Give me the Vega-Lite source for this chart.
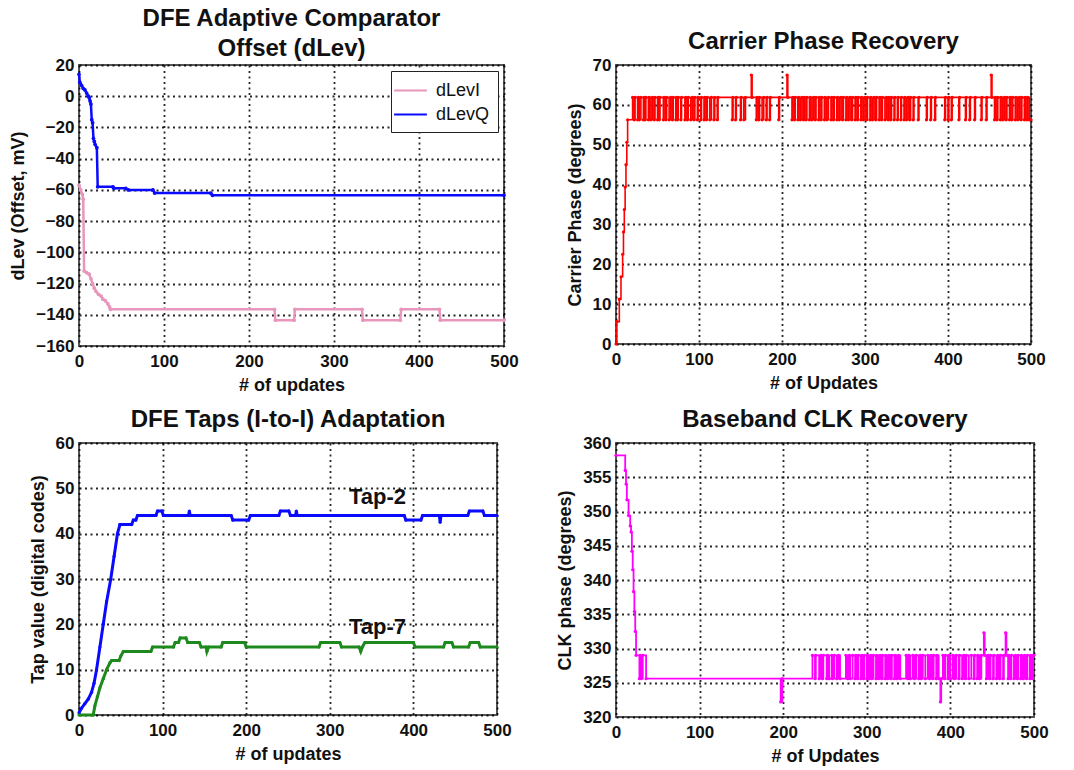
{
  "$schema": "https://vega.github.io/schema/vega-lite/v6.json",
  "background": "white",
  "padding": {"left": 8, "top": 6, "right": 4, "bottom": 0},
  "config": {
    "font": "Liberation Sans",
    "view": {"stroke": "#555", "strokeWidth": 2},
    "axis": {"grid": true, "gridColor": "#000", "gridDash": [2, 3.5], "gridWidth": 1.8, "gridOpacity": 0.85, "domain": false, "ticks": false, "labelFlush": false,
      "labelFont": "Liberation Sans", "labelFontSize": 17, "labelFontWeight": "bold", "labelColor": "#111",
      "titleFont": "Liberation Sans", "titleFontSize": 18, "titleFontWeight": "bold", "titleColor": "#111", "labelPadding": 7, "titlePadding": 7},
    "axisY": {"labelPadding": 5, "titlePadding": 8},
    "title": {"font": "Liberation Sans", "fontSize": 24, "fontWeight": "bold", "color": "#111", "offset": 2, "anchor": "middle", "lineHeight": 30}
  },
  "resolve": {"scale": {"color": "independent"}, "legend": {"color": "independent"}},
  "columns": 2,
  "spacing": {"row": 12, "column": 35},
  "datasets": {
    "dlev": [
      {"x": 0, "y": 14, "s": "dLevQ"}, {"x": 1, "y": 9, "s": "dLevQ"}, {"x": 3, "y": 7, "s": "dLevQ"}, {"x": 5, "y": 5, "s": "dLevQ"}, {"x": 7, "y": 4, "s": "dLevQ"}, {"x": 9, "y": 2, "s": "dLevQ"}, {"x": 11, "y": 0, "s": "dLevQ"}, {"x": 12, "y": -1, "s": "dLevQ"}, {"x": 13, "y": -3, "s": "dLevQ"}, {"x": 14, "y": -5, "s": "dLevQ"}, {"x": 15, "y": -15, "s": "dLevQ"}, {"x": 16, "y": -17, "s": "dLevQ"}, {"x": 17, "y": -27, "s": "dLevQ"}, {"x": 18, "y": -29, "s": "dLevQ"}, {"x": 19, "y": -31, "s": "dLevQ"}, {"x": 21, "y": -33, "s": "dLevQ"}, {"x": 22, "y": -58, "s": "dLevQ"}, {"x": 40, "y": -58, "s": "dLevQ"}, {"x": 41, "y": -59, "s": "dLevQ"}, {"x": 55, "y": -59, "s": "dLevQ"}, {"x": 58, "y": -60, "s": "dLevQ"}, {"x": 87, "y": -60, "s": "dLevQ"}, {"x": 89, "y": -62, "s": "dLevQ"}, {"x": 155, "y": -62, "s": "dLevQ"}, {"x": 157, "y": -63.5, "s": "dLevQ"}, {"x": 500, "y": -63.5, "s": "dLevQ"},
      {"x": 0, "y": -57, "s": "dLevI"}, {"x": 2, "y": -60, "s": "dLevI"}, {"x": 4, "y": -63, "s": "dLevI"}, {"x": 5, "y": -66, "s": "dLevI"}, {"x": 6, "y": -112, "s": "dLevI"}, {"x": 9, "y": -113, "s": "dLevI"}, {"x": 12, "y": -114, "s": "dLevI"}, {"x": 14, "y": -117, "s": "dLevI"}, {"x": 16, "y": -120, "s": "dLevI"}, {"x": 18, "y": -123, "s": "dLevI"}, {"x": 20, "y": -125, "s": "dLevI"}, {"x": 23, "y": -127, "s": "dLevI"}, {"x": 26, "y": -128, "s": "dLevI"}, {"x": 28, "y": -130, "s": "dLevI"}, {"x": 31, "y": -131, "s": "dLevI"}, {"x": 34, "y": -133, "s": "dLevI"}, {"x": 36, "y": -135, "s": "dLevI"}, {"x": 37, "y": -136.5, "s": "dLevI"}, {"x": 230, "y": -136.5, "s": "dLevI"}, {"x": 231, "y": -143.5, "s": "dLevI"}, {"x": 253, "y": -143.5, "s": "dLevI"}, {"x": 254, "y": -136.5, "s": "dLevI"}, {"x": 333, "y": -136.5, "s": "dLevI"}, {"x": 334, "y": -143.5, "s": "dLevI"}, {"x": 378, "y": -143.5, "s": "dLevI"}, {"x": 379, "y": -136.5, "s": "dLevI"}, {"x": 424, "y": -136.5, "s": "dLevI"}, {"x": 425, "y": -143.5, "s": "dLevI"}, {"x": 500, "y": -143.5, "s": "dLevI"}
    ],
    "carrier": [
      {"x": 0, "y": 0}, {"x": 1, "y": 5.625}, {"x": 4, "y": 11.25}, {"x": 6, "y": 16.875}, {"x": 8, "y": 22.5}, {"x": 9, "y": 28.125}, {"x": 10, "y": 33.75}, {"x": 11, "y": 39.375}, {"x": 12, "y": 45}, {"x": 13, "y": 50.625}, {"x": 14, "y": 56.25},
      {"x": 20, "y": 61.875}, {"x": 22, "y": 56.25}, {"x": 23, "y": 61.875}, {"x": 26, "y": 56.25}, {"x": 27, "y": 61.875}, {"x": 28, "y": 56.25}, {"x": 30, "y": 61.875}, {"x": 33, "y": 56.25}, {"x": 34, "y": 61.875}, {"x": 35, "y": 56.25}, {"x": 36, "y": 61.875}, {"x": 39, "y": 56.25}, {"x": 40, "y": 61.875}, {"x": 42, "y": 56.25}, {"x": 44, "y": 61.875}, {"x": 46, "y": 56.25}, {"x": 47, "y": 61.875}, {"x": 50, "y": 56.25}, {"x": 51, "y": 61.875}, {"x": 52, "y": 56.25}, {"x": 53, "y": 61.875}, {"x": 57, "y": 56.25}, {"x": 58, "y": 61.875}, {"x": 60, "y": 56.25}, {"x": 61, "y": 61.875}, {"x": 64, "y": 56.25}, {"x": 66, "y": 61.875}, {"x": 68, "y": 56.25}, {"x": 69, "y": 61.875}, {"x": 72, "y": 56.25}, {"x": 73, "y": 61.875}, {"x": 74, "y": 56.25}, {"x": 75, "y": 61.875}, {"x": 78, "y": 56.25}, {"x": 79, "y": 61.875}, {"x": 83, "y": 56.25}, {"x": 84, "y": 61.875}, {"x": 86, "y": 56.25}, {"x": 87, "y": 61.875}, {"x": 90, "y": 56.25}, {"x": 92, "y": 61.875}, {"x": 94, "y": 56.25}, {"x": 95, "y": 61.875}, {"x": 98, "y": 56.25}, {"x": 99, "y": 61.875}, {"x": 102, "y": 56.25}, {"x": 103, "y": 61.875}, {"x": 106, "y": 56.25}, {"x": 107, "y": 61.875}, {"x": 109, "y": 56.25}, {"x": 110, "y": 61.875}, {"x": 113, "y": 56.25}, {"x": 115, "y": 61.875}, {"x": 118, "y": 56.25}, {"x": 119, "y": 61.875}, {"x": 122, "y": 56.25}, {"x": 123, "y": 61.875},
      {"x": 140, "y": 56.25}, {"x": 141, "y": 61.875}, {"x": 144, "y": 56.25}, {"x": 145, "y": 61.875}, {"x": 150, "y": 56.25}, {"x": 151, "y": 61.875}, {"x": 154, "y": 56.25}, {"x": 156, "y": 61.875}, {"x": 163, "y": 67.5}, {"x": 164, "y": 61.875}, {"x": 169, "y": 56.25}, {"x": 170, "y": 61.875}, {"x": 172, "y": 56.25}, {"x": 173, "y": 61.875}, {"x": 176, "y": 56.25}, {"x": 178, "y": 61.875}, {"x": 181, "y": 56.25}, {"x": 182, "y": 61.875}, {"x": 185, "y": 56.25}, {"x": 186, "y": 61.875}, {"x": 196, "y": 56.25}, {"x": 197, "y": 61.875}, {"x": 206, "y": 67.5}, {"x": 207, "y": 61.875},
      {"x": 212, "y": 56.25}, {"x": 213, "y": 61.875}, {"x": 215, "y": 56.25}, {"x": 216, "y": 61.875}, {"x": 219, "y": 56.25}, {"x": 220, "y": 61.875}, {"x": 222, "y": 56.25}, {"x": 224, "y": 61.875}, {"x": 226, "y": 56.25}, {"x": 227, "y": 61.875}, {"x": 229, "y": 56.25}, {"x": 230, "y": 61.875}, {"x": 233, "y": 56.25}, {"x": 234, "y": 61.875}, {"x": 236, "y": 56.25}, {"x": 238, "y": 61.875}, {"x": 240, "y": 56.25}, {"x": 241, "y": 61.875}, {"x": 244, "y": 56.25}, {"x": 245, "y": 61.875}, {"x": 247, "y": 56.25}, {"x": 248, "y": 61.875}, {"x": 251, "y": 56.25}, {"x": 252, "y": 61.875}, {"x": 254, "y": 56.25}, {"x": 256, "y": 61.875}, {"x": 259, "y": 56.25}, {"x": 260, "y": 61.875}, {"x": 262, "y": 56.25}, {"x": 263, "y": 61.875}, {"x": 266, "y": 56.25}, {"x": 267, "y": 61.875}, {"x": 269, "y": 56.25}, {"x": 271, "y": 61.875}, {"x": 273, "y": 56.25}, {"x": 274, "y": 61.875}, {"x": 277, "y": 56.25}, {"x": 278, "y": 61.875}, {"x": 280, "y": 56.25}, {"x": 282, "y": 61.875}, {"x": 284, "y": 56.25}, {"x": 285, "y": 61.875}, {"x": 288, "y": 56.25}, {"x": 289, "y": 61.875}, {"x": 291, "y": 56.25}, {"x": 292, "y": 61.875}, {"x": 295, "y": 56.25}, {"x": 296, "y": 61.875}, {"x": 298, "y": 56.25}, {"x": 300, "y": 61.875}, {"x": 302, "y": 56.25}, {"x": 303, "y": 61.875}, {"x": 306, "y": 56.25}, {"x": 307, "y": 61.875}, {"x": 309, "y": 56.25}, {"x": 311, "y": 61.875}, {"x": 313, "y": 56.25}, {"x": 314, "y": 61.875}, {"x": 317, "y": 56.25}, {"x": 318, "y": 61.875}, {"x": 320, "y": 56.25}, {"x": 321, "y": 61.875}, {"x": 324, "y": 56.25}, {"x": 326, "y": 61.875}, {"x": 328, "y": 56.25}, {"x": 329, "y": 61.875}, {"x": 331, "y": 56.25}, {"x": 332, "y": 61.875}, {"x": 335, "y": 56.25}, {"x": 336, "y": 61.875}, {"x": 339, "y": 56.25}, {"x": 340, "y": 61.875}, {"x": 343, "y": 56.25}, {"x": 344, "y": 61.875}, {"x": 347, "y": 56.25}, {"x": 348, "y": 61.875}, {"x": 350, "y": 56.25}, {"x": 352, "y": 61.875}, {"x": 354, "y": 56.25}, {"x": 355, "y": 61.875},
      {"x": 358, "y": 56.25}, {"x": 359, "y": 61.875}, {"x": 364, "y": 56.25}, {"x": 365, "y": 61.875}, {"x": 374, "y": 56.25}, {"x": 375, "y": 61.875}, {"x": 379, "y": 56.25}, {"x": 380, "y": 61.875}, {"x": 384, "y": 56.25}, {"x": 385, "y": 61.875}, {"x": 396, "y": 56.25}, {"x": 397, "y": 61.875}, {"x": 400, "y": 56.25}, {"x": 401, "y": 61.875}, {"x": 404, "y": 56.25}, {"x": 405, "y": 61.875}, {"x": 413, "y": 56.25}, {"x": 414, "y": 61.875}, {"x": 421, "y": 56.25}, {"x": 422, "y": 61.875}, {"x": 426, "y": 56.25}, {"x": 427, "y": 61.875}, {"x": 432, "y": 56.25}, {"x": 433, "y": 61.875}, {"x": 440, "y": 56.25}, {"x": 441, "y": 61.875}, {"x": 446, "y": 56.25}, {"x": 447, "y": 61.875}, {"x": 452, "y": 67.5}, {"x": 453, "y": 61.875},
      {"x": 456, "y": 56.25}, {"x": 457, "y": 61.875}, {"x": 459, "y": 56.25}, {"x": 460, "y": 61.875}, {"x": 463, "y": 56.25}, {"x": 464, "y": 61.875}, {"x": 466, "y": 56.25}, {"x": 468, "y": 61.875}, {"x": 470, "y": 56.25}, {"x": 471, "y": 61.875}, {"x": 474, "y": 56.25}, {"x": 475, "y": 61.875}, {"x": 477, "y": 56.25}, {"x": 478, "y": 61.875}, {"x": 481, "y": 56.25}, {"x": 482, "y": 61.875}, {"x": 484, "y": 56.25}, {"x": 486, "y": 61.875}, {"x": 488, "y": 56.25}, {"x": 489, "y": 61.875}, {"x": 492, "y": 56.25}, {"x": 493, "y": 61.875}, {"x": 495, "y": 56.25}, {"x": 496, "y": 61.875}, {"x": 498, "y": 56.25}, {"x": 500, "y": 56.25}
    ],
    "taps": [
      {"x": 0, "y": 0.5, "s": "Tap-2"}, {"x": 3, "y": 1.5, "s": "Tap-2"}, {"x": 7, "y": 2.5, "s": "Tap-2"}, {"x": 11, "y": 3.5, "s": "Tap-2"}, {"x": 15, "y": 5, "s": "Tap-2"}, {"x": 18, "y": 7, "s": "Tap-2"}, {"x": 21, "y": 10, "s": "Tap-2"}, {"x": 25, "y": 15, "s": "Tap-2"}, {"x": 29, "y": 20, "s": "Tap-2"}, {"x": 33, "y": 25, "s": "Tap-2"}, {"x": 38, "y": 30, "s": "Tap-2"}, {"x": 42, "y": 35, "s": "Tap-2"}, {"x": 46, "y": 40, "s": "Tap-2"}, {"x": 49, "y": 42, "s": "Tap-2"}, {"x": 63, "y": 42, "s": "Tap-2"}, {"x": 65, "y": 43, "s": "Tap-2"}, {"x": 68, "y": 43, "s": "Tap-2"}, {"x": 70, "y": 44, "s": "Tap-2"}, {"x": 92, "y": 44, "s": "Tap-2"}, {"x": 94, "y": 45, "s": "Tap-2"}, {"x": 99, "y": 45, "s": "Tap-2"}, {"x": 101, "y": 44, "s": "Tap-2"}, {"x": 131, "y": 44, "s": "Tap-2"}, {"x": 132, "y": 45, "s": "Tap-2"}, {"x": 133, "y": 44, "s": "Tap-2"}, {"x": 182, "y": 44, "s": "Tap-2"}, {"x": 184, "y": 43, "s": "Tap-2"}, {"x": 203, "y": 43, "s": "Tap-2"}, {"x": 205, "y": 44, "s": "Tap-2"}, {"x": 239, "y": 44, "s": "Tap-2"}, {"x": 241, "y": 45, "s": "Tap-2"}, {"x": 251, "y": 45, "s": "Tap-2"}, {"x": 253, "y": 44, "s": "Tap-2"}, {"x": 259, "y": 44, "s": "Tap-2"}, {"x": 260, "y": 45, "s": "Tap-2"}, {"x": 261, "y": 44, "s": "Tap-2"}, {"x": 389, "y": 44, "s": "Tap-2"}, {"x": 391, "y": 43, "s": "Tap-2"}, {"x": 409, "y": 43, "s": "Tap-2"}, {"x": 411, "y": 44, "s": "Tap-2"}, {"x": 431, "y": 44, "s": "Tap-2"}, {"x": 432, "y": 42.5, "s": "Tap-2"}, {"x": 433, "y": 44, "s": "Tap-2"}, {"x": 465, "y": 44, "s": "Tap-2"}, {"x": 467, "y": 45, "s": "Tap-2"}, {"x": 483, "y": 45, "s": "Tap-2"}, {"x": 485, "y": 44, "s": "Tap-2"}, {"x": 500, "y": 44, "s": "Tap-2"},
      {"x": 0, "y": 0, "s": "Tap-7"}, {"x": 17, "y": 0, "s": "Tap-7"}, {"x": 19, "y": 2, "s": "Tap-7"}, {"x": 22, "y": 4, "s": "Tap-7"}, {"x": 25, "y": 6, "s": "Tap-7"}, {"x": 29, "y": 8, "s": "Tap-7"}, {"x": 33, "y": 10, "s": "Tap-7"}, {"x": 37, "y": 11.5, "s": "Tap-7"}, {"x": 39, "y": 12, "s": "Tap-7"}, {"x": 48, "y": 12, "s": "Tap-7"}, {"x": 50, "y": 13, "s": "Tap-7"}, {"x": 53, "y": 14, "s": "Tap-7"}, {"x": 86, "y": 14, "s": "Tap-7"}, {"x": 88, "y": 15, "s": "Tap-7"}, {"x": 113, "y": 15, "s": "Tap-7"}, {"x": 115, "y": 16, "s": "Tap-7"}, {"x": 119, "y": 16, "s": "Tap-7"}, {"x": 121, "y": 17, "s": "Tap-7"}, {"x": 128, "y": 17, "s": "Tap-7"}, {"x": 130, "y": 16, "s": "Tap-7"}, {"x": 144, "y": 16, "s": "Tap-7"}, {"x": 146, "y": 15, "s": "Tap-7"}, {"x": 152, "y": 15, "s": "Tap-7"}, {"x": 153, "y": 14, "s": "Tap-7"}, {"x": 155, "y": 15, "s": "Tap-7"}, {"x": 170, "y": 15, "s": "Tap-7"}, {"x": 172, "y": 16, "s": "Tap-7"}, {"x": 198, "y": 16, "s": "Tap-7"}, {"x": 200, "y": 15, "s": "Tap-7"}, {"x": 287, "y": 15, "s": "Tap-7"}, {"x": 289, "y": 16, "s": "Tap-7"}, {"x": 312, "y": 16, "s": "Tap-7"}, {"x": 314, "y": 15, "s": "Tap-7"}, {"x": 335, "y": 15, "s": "Tap-7"}, {"x": 337, "y": 14, "s": "Tap-7"}, {"x": 339, "y": 15, "s": "Tap-7"}, {"x": 342, "y": 16, "s": "Tap-7"}, {"x": 400, "y": 16, "s": "Tap-7"}, {"x": 402, "y": 15, "s": "Tap-7"}, {"x": 436, "y": 15, "s": "Tap-7"}, {"x": 438, "y": 16, "s": "Tap-7"}, {"x": 446, "y": 16, "s": "Tap-7"}, {"x": 448, "y": 15, "s": "Tap-7"}, {"x": 466, "y": 15, "s": "Tap-7"}, {"x": 468, "y": 16, "s": "Tap-7"}, {"x": 478, "y": 16, "s": "Tap-7"}, {"x": 480, "y": 15, "s": "Tap-7"}, {"x": 500, "y": 15, "s": "Tap-7"}
    ],
    "taplabels": [
      {"x": 357, "y": 48, "label": "Tap-2"},
      {"x": 357, "y": 19.5, "label": "Tap-7"}
    ],
    "clk": [
      {"x": 0, "y": 358.2}, {"x": 11, "y": 356}, {"x": 12, "y": 354}, {"x": 13, "y": 351.7}, {"x": 15, "y": 349.4}, {"x": 17, "y": 347.9}, {"x": 18, "y": 347}, {"x": 19, "y": 344.2}, {"x": 20, "y": 341.5}, {"x": 21, "y": 338.3}, {"x": 22, "y": 335.4}, {"x": 23, "y": 332.5}, {"x": 24, "y": 329}, {"x": 28, "y": 325.6}, {"x": 29, "y": 329}, {"x": 30, "y": 325.6}, {"x": 32, "y": 329}, {"x": 36, "y": 325.6}, {"x": 197, "y": 322.2}, {"x": 199, "y": 325.6},
      {"x": 235, "y": 329}, {"x": 238, "y": 325.6}, {"x": 239, "y": 329}, {"x": 243, "y": 325.6}, {"x": 245, "y": 329}, {"x": 247, "y": 325.6}, {"x": 248, "y": 329}, {"x": 252, "y": 325.6}, {"x": 253, "y": 329}, {"x": 255, "y": 325.6}, {"x": 258, "y": 329}, {"x": 259, "y": 325.6}, {"x": 261, "y": 329}, {"x": 264, "y": 325.6}, {"x": 266, "y": 329}, {"x": 268, "y": 325.6}, {"x": 275, "y": 329}, {"x": 277, "y": 325.6}, {"x": 279, "y": 329}, {"x": 280, "y": 325.6}, {"x": 283, "y": 329}, {"x": 286, "y": 325.6}, {"x": 287, "y": 329}, {"x": 289, "y": 325.6}, {"x": 290, "y": 329}, {"x": 293, "y": 325.6}, {"x": 294, "y": 329}, {"x": 296, "y": 325.6}, {"x": 297, "y": 329}, {"x": 300, "y": 325.6}, {"x": 301, "y": 329}, {"x": 303, "y": 325.6}, {"x": 305, "y": 329}, {"x": 306, "y": 325.6}, {"x": 308, "y": 329}, {"x": 311, "y": 325.6}, {"x": 312, "y": 329}, {"x": 314, "y": 325.6}, {"x": 316, "y": 329}, {"x": 318, "y": 325.6}, {"x": 319, "y": 329}, {"x": 322, "y": 325.6}, {"x": 323, "y": 329}, {"x": 325, "y": 325.6}, {"x": 327, "y": 329}, {"x": 329, "y": 325.6}, {"x": 330, "y": 329}, {"x": 333, "y": 325.6}, {"x": 334, "y": 329}, {"x": 336, "y": 325.6}, {"x": 338, "y": 329}, {"x": 340, "y": 325.6}, {"x": 347, "y": 329}, {"x": 349, "y": 325.6}, {"x": 350, "y": 329}, {"x": 352, "y": 325.6}, {"x": 355, "y": 329}, {"x": 357, "y": 325.6}, {"x": 359, "y": 329}, {"x": 362, "y": 325.6}, {"x": 364, "y": 329}, {"x": 365, "y": 325.6}, {"x": 367, "y": 329}, {"x": 370, "y": 325.6}, {"x": 373, "y": 329}, {"x": 375, "y": 325.6}, {"x": 377, "y": 329}, {"x": 379, "y": 325.6}, {"x": 380, "y": 329}, {"x": 383, "y": 325.6}, {"x": 384, "y": 329}, {"x": 386, "y": 325.6}, {"x": 388, "y": 322.2}, {"x": 389, "y": 325.6}, {"x": 391, "y": 329}, {"x": 393, "y": 325.6}, {"x": 394, "y": 329}, {"x": 397, "y": 325.6}, {"x": 398, "y": 329}, {"x": 400, "y": 325.6}, {"x": 403, "y": 329}, {"x": 405, "y": 325.6}, {"x": 407, "y": 329}, {"x": 410, "y": 325.6}, {"x": 411, "y": 329}, {"x": 414, "y": 325.6}, {"x": 416, "y": 329}, {"x": 418, "y": 325.6}, {"x": 419, "y": 329}, {"x": 422, "y": 325.6}, {"x": 425, "y": 329}, {"x": 428, "y": 325.6}, {"x": 429, "y": 329}, {"x": 432, "y": 325.6}, {"x": 433, "y": 329}, {"x": 435, "y": 325.6}, {"x": 437, "y": 329}, {"x": 440, "y": 332.3}, {"x": 441, "y": 329}, {"x": 443, "y": 325.6}, {"x": 445, "y": 329}, {"x": 447, "y": 325.6}, {"x": 448, "y": 329}, {"x": 451, "y": 325.6}, {"x": 452, "y": 329}, {"x": 455, "y": 325.6}, {"x": 457, "y": 329}, {"x": 459, "y": 325.6}, {"x": 460, "y": 329}, {"x": 463, "y": 325.6}, {"x": 464, "y": 329}, {"x": 466, "y": 332.3}, {"x": 467, "y": 329}, {"x": 469, "y": 325.6}, {"x": 470, "y": 329}, {"x": 472, "y": 325.6}, {"x": 473, "y": 329}, {"x": 476, "y": 325.6}, {"x": 478, "y": 329}, {"x": 480, "y": 325.6}, {"x": 481, "y": 329}, {"x": 484, "y": 325.6}, {"x": 485, "y": 329}, {"x": 487, "y": 325.6}, {"x": 489, "y": 329}, {"x": 491, "y": 325.6}, {"x": 492, "y": 329}, {"x": 495, "y": 325.6}, {"x": 496, "y": 329}, {"x": 498, "y": 325.6}, {"x": 499, "y": 329}, {"x": 500, "y": 329}
    ]
  },
  "concat": [
    {
      "title": {"text": ["DFE Adaptive Comparator", "Offset (dLev)"], "offset": -5},
      "width": 425, "height": 281,
      "data": {"name": "dlev"},
      "mark": {"type": "line", "strokeWidth": 2.5, "point": {"filled": true, "size": 14}},
      "encoding": {
        "x": {"field": "x", "type": "quantitative", "title": "# of updates", "scale": {"domain": [0, 500], "nice": false}, "axis": {"values": [0, 100, 200, 300, 400, 500]}},
        "y": {"field": "y", "type": "quantitative", "title": "dLev (Offset, mV)", "scale": {"domain": [-160, 20], "nice": false}, "axis": {"values": [-160, -140, -120, -100, -80, -60, -40, -20, 0, 20]}},
        "color": {"field": "s", "type": "nominal", "scale": {"domain": ["dLevI", "dLevQ"], "range": ["#e896bb", "#0a0aff"]},
          "legend": {"title": null, "orient": "top-right", "offset": 6, "fillColor": "white", "strokeColor": "#222", "padding": 8, "labelFontSize": 18, "labelFontWeight": "normal", "labelColor": "#111", "symbolType": "M-1.6,0H1.6", "symbolSize": 420, "symbolStrokeWidth": 2, "rowPadding": 3, "labelOffset": 14}}
      }
    },
    {
      "title": {"text": "Carrier Phase Recovery"},
      "width": 415, "height": 279,
      "data": {"name": "carrier"},
      "mark": {"type": "line", "interpolate": "step-after", "color": "#ff0000", "strokeWidth": 1.6, "point": {"filled": true, "size": 10, "color": "#ff0000"}},
      "encoding": {
        "x": {"field": "x", "type": "quantitative", "title": "# of Updates", "scale": {"domain": [0, 500], "nice": false}, "axis": {"values": [0, 100, 200, 300, 400, 500]}},
        "y": {"field": "y", "type": "quantitative", "title": "Carrier Phase (degrees)", "scale": {"domain": [0, 70], "nice": false}, "axis": {"values": [0, 10, 20, 30, 40, 50, 60, 70]}}
      }
    },
    {
      "title": {"text": "DFE Taps (I-to-I) Adaptation"},
      "width": 418, "height": 272,
      "layer": [
        {
          "data": {"name": "taps"},
          "mark": {"type": "line", "strokeWidth": 3, "point": {"filled": true, "size": 10}},
          "encoding": {
            "x": {"field": "x", "type": "quantitative", "title": "# of updates", "scale": {"domain": [0, 500], "nice": false}, "axis": {"values": [0, 100, 200, 300, 400, 500]}},
            "y": {"field": "y", "type": "quantitative", "title": "Tap value (digital codes)", "scale": {"domain": [0, 60], "nice": false}, "axis": {"values": [0, 10, 20, 30, 40, 50, 60]}},
            "color": {"field": "s", "type": "nominal", "scale": {"domain": ["Tap-2", "Tap-7"], "range": ["#0a0aff", "#1e8a1e"]}, "legend": null}
          }
        },
        {
          "data": {"name": "taplabels"},
          "mark": {"type": "text", "fontSize": 22, "fontWeight": "bold", "color": "#111", "baseline": "middle", "align": "center"},
          "encoding": {
            "x": {"field": "x", "type": "quantitative"},
            "y": {"field": "y", "type": "quantitative"},
            "text": {"field": "label"}
          }
        }
      ]
    },
    {
      "title": {"text": "Baseband CLK Recovery"},
      "width": 418, "height": 274,
      "data": {"name": "clk"},
      "mark": {"type": "line", "interpolate": "step-after", "color": "#ff00ff", "strokeWidth": 1.8, "point": {"filled": true, "size": 10, "color": "#ff00ff"}},
      "encoding": {
        "x": {"field": "x", "type": "quantitative", "title": "# of Updates", "scale": {"domain": [0, 500], "nice": false}, "axis": {"values": [0, 100, 200, 300, 400, 500]}},
        "y": {"field": "y", "type": "quantitative", "title": "CLK phase (degrees)", "scale": {"domain": [320, 360], "nice": false}, "axis": {"values": [320, 325, 330, 335, 340, 345, 350, 355, 360]}}
      }
    }
  ]
}
